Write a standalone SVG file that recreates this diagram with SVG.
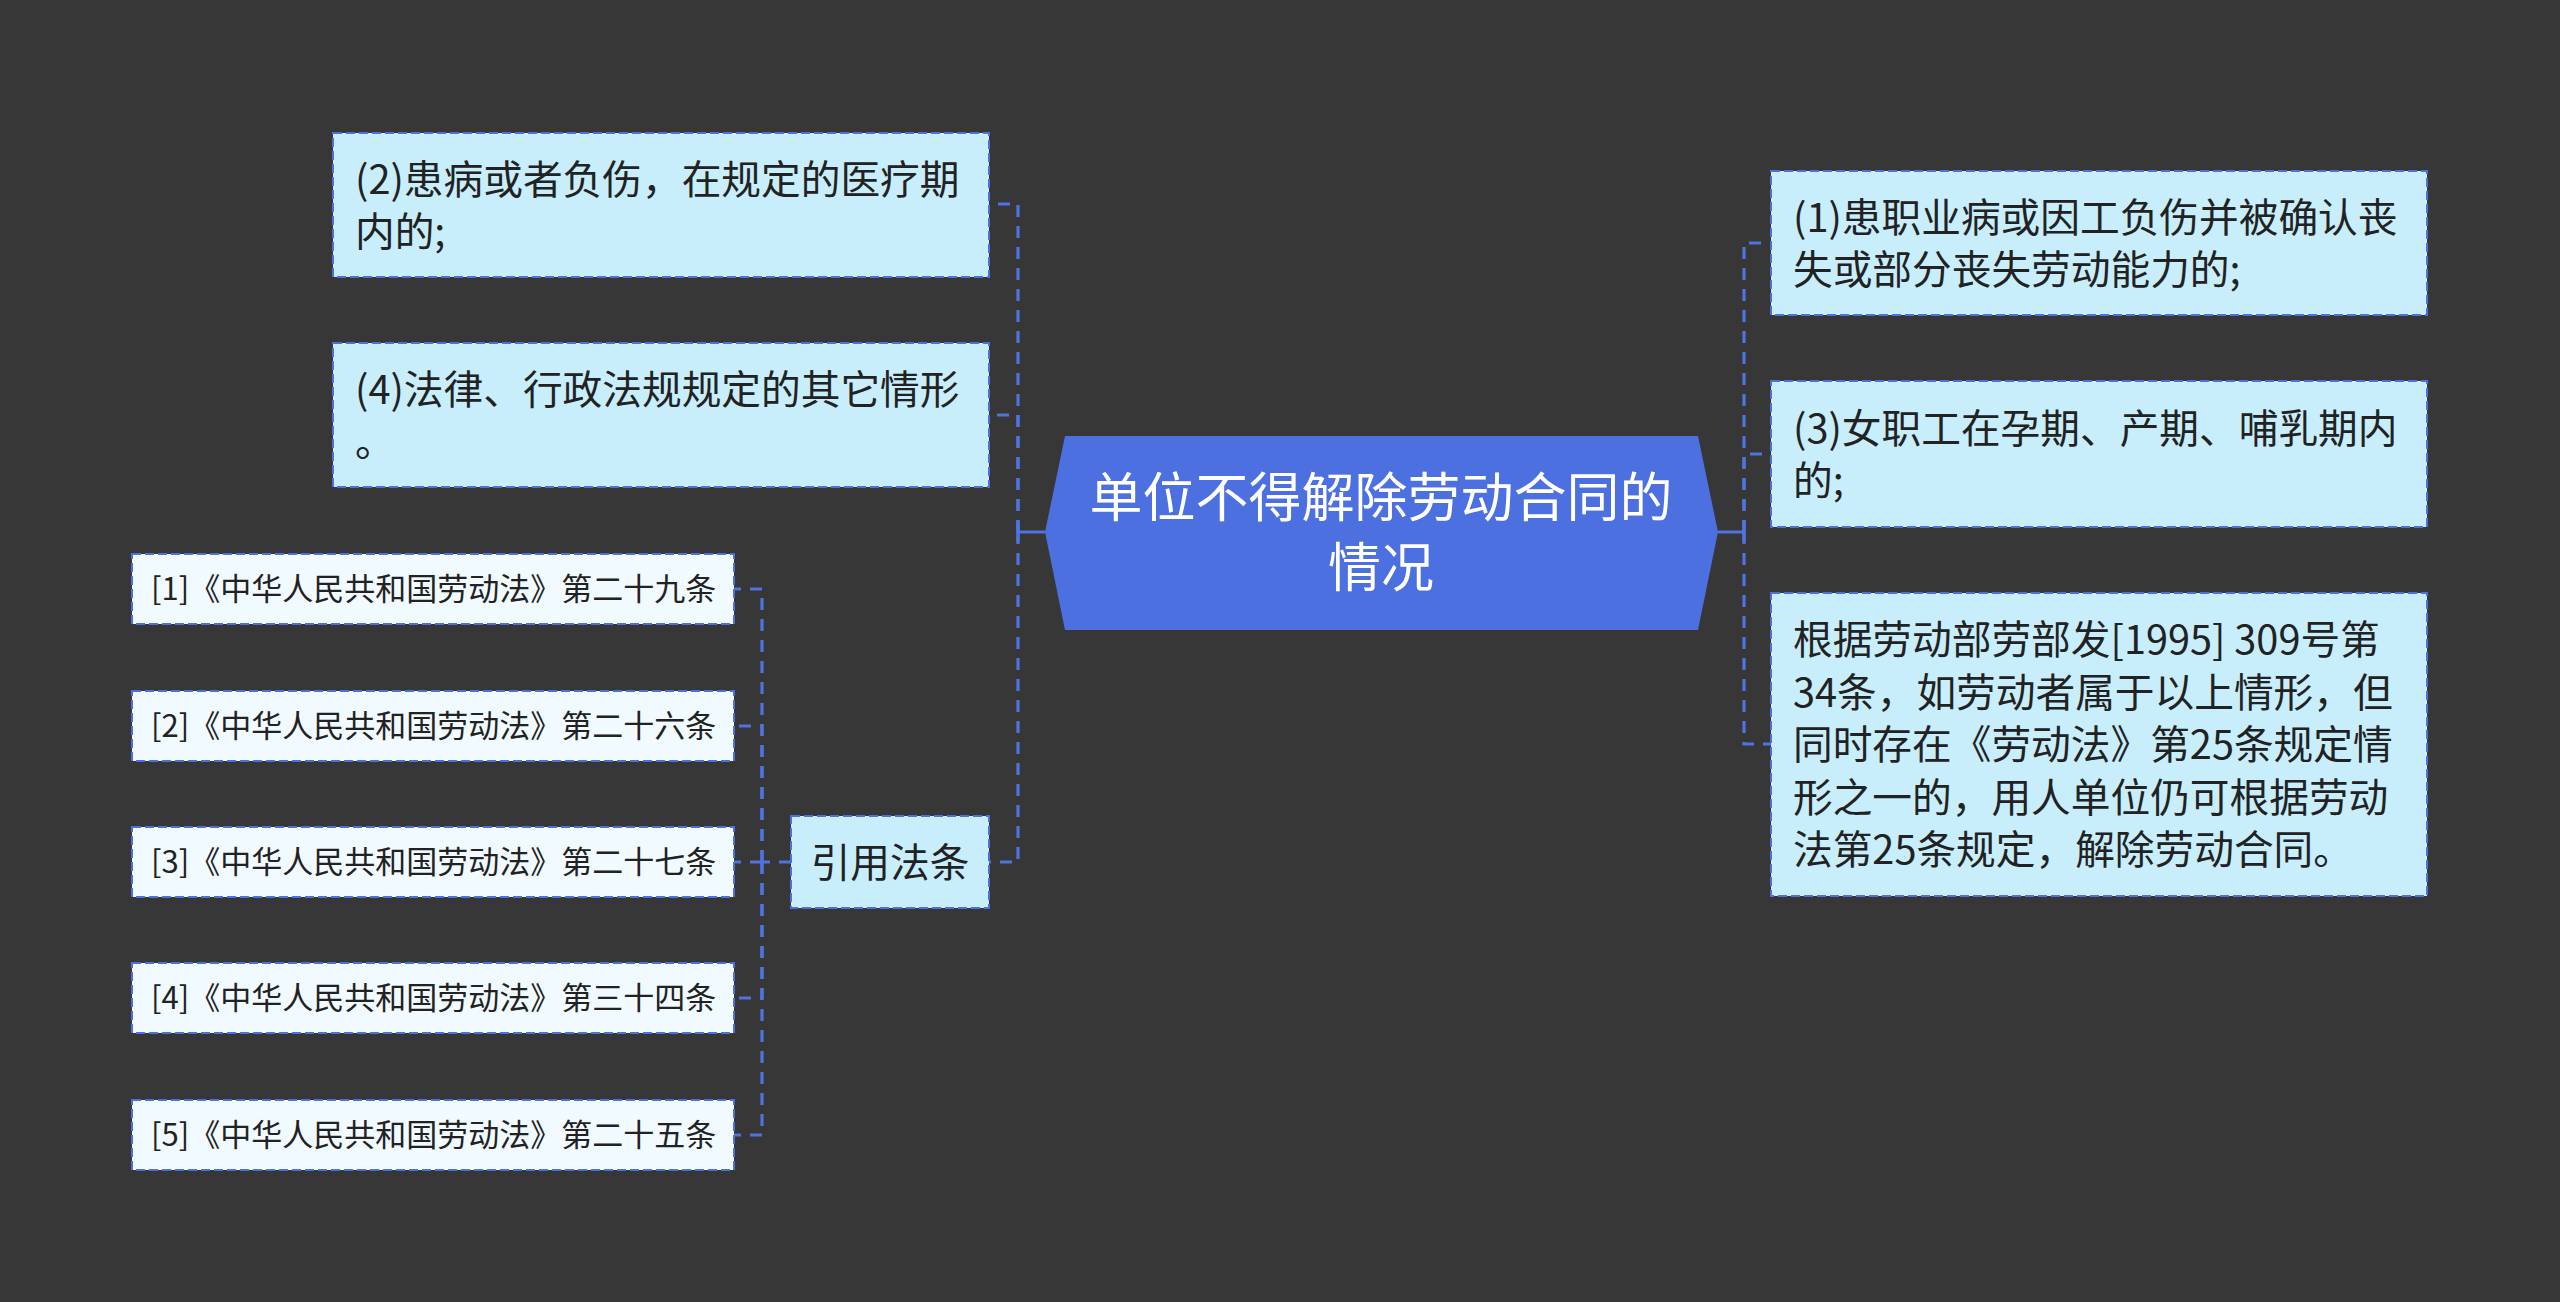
<svg xmlns="http://www.w3.org/2000/svg" width="2560" height="1302" viewBox="0 0 2560 1302">
<style>
.bg{fill:#373737}
.root{fill:#4C70E0}
.rt{fill:#ffffff;font-family:"Noto Sans CJK SC","Noto Sans",sans-serif;font-size:53px}
.big{fill:#C8EEFC;stroke:#4C70E0;stroke-width:2;stroke-dasharray:9 4}
.ref{fill:#F0FAFF;stroke:#4C70E0;stroke-width:2;stroke-dasharray:9 4}
.t{fill:#222222;font-family:"Noto Sans CJK SC","Noto Sans",sans-serif;font-size:39.7px}
.rf{fill:#222222;font-family:"Noto Sans CJK SC","Noto Sans",sans-serif;font-size:31px}
.c{fill:none;stroke:#5073E2;stroke-width:3.2;stroke-dasharray:12 9}
.s{fill:none;stroke:#5073E2;stroke-width:3.2}
</style>
<rect class="bg" x="0" y="0" width="2560" height="1302"/>
<g id="connectors">
  <path class="s" d="M1045 532 H1018 M1018 522 V542"/>
  <path class="s" d="M1718 532 H1744 M1744 522 V542"/>
  <path class="c" d="M1018 532 V204 H989"/>
  <path class="c" d="M1018 532 V415 H989"/>
  <path class="c" d="M1018 532 V862 H989"/>
  <path class="c" d="M1744 532 V243 H1771"/>
  <path class="c" d="M1744 532 V454 H1771"/>
  <path class="c" d="M1744 532 V744 H1771"/>
  <path class="c" d="M791 862 H762"/>
  <path class="c" d="M762 862 V589 H734"/>
  <path class="c" d="M762 862 V726 H734"/>
  <path class="c" d="M762 862 H734"/>
  <path class="c" d="M762 862 V998 H734"/>
  <path class="c" d="M762 862 V1135 H734"/>
</g>
<g id="root">
  <polygon class="root" points="1065,436 1698,436 1718,532 1698,630 1065,630 1045,532"/>
  <text class="rt" text-anchor="middle"><tspan x="1381" y="517">单位不得解除劳动合同的</tspan><tspan x="1381" y="587">情况</tspan></text>
</g>
<g id="n2">
  <rect class="big" x="333" y="133" width="656" height="144"/>
  <text class="t"><tspan x="355" y="194">(2)患病或者负伤，在规定的医疗期</tspan><tspan x="355" y="246">内的;</tspan></text>
</g>
<g id="n4">
  <rect class="big" x="333" y="343" width="656" height="144"/>
  <text class="t"><tspan x="355" y="404">(4)法律、行政法规规定的其它情形</tspan><tspan x="355" y="456">。</tspan></text>
</g>
<g id="cite">
  <rect class="big" x="791" y="816" width="198" height="92"/>
  <text class="t" x="890" y="877" text-anchor="middle">引用法条</text>
</g>
<g id="ref1">
  <rect class="ref" x="132" y="554" width="602" height="70"/>
  <text class="rf" x="151" y="600">[1]《中华人民共和国劳动法》第二十九条</text>
</g>
<g id="ref2">
  <rect class="ref" x="132" y="691" width="602" height="70"/>
  <text class="rf" x="151" y="737">[2]《中华人民共和国劳动法》第二十六条</text>
</g>
<g id="ref3">
  <rect class="ref" x="132" y="827" width="602" height="70"/>
  <text class="rf" x="151" y="873">[3]《中华人民共和国劳动法》第二十七条</text>
</g>
<g id="ref4">
  <rect class="ref" x="132" y="963" width="602" height="70"/>
  <text class="rf" x="151" y="1009">[4]《中华人民共和国劳动法》第三十四条</text>
</g>
<g id="ref5">
  <rect class="ref" x="132" y="1100" width="602" height="70"/>
  <text class="rf" x="151" y="1146">[5]《中华人民共和国劳动法》第二十五条</text>
</g>
<g id="n1">
  <rect class="big" x="1771" y="171" width="656" height="144"/>
  <text class="t"><tspan x="1793" y="232">(1)患职业病或因工负伤并被确认丧</tspan><tspan x="1793" y="284">失或部分丧失劳动能力的;</tspan></text>
</g>
<g id="n3">
  <rect class="big" x="1771" y="381" width="656" height="146"/>
  <text class="t"><tspan x="1793" y="443">(3)女职工在孕期、产期、哺乳期内</tspan><tspan x="1793" y="495">的;</tspan></text>
</g>
<g id="n5">
  <rect class="big" x="1771" y="593" width="656" height="303"/>
  <text class="t"><tspan x="1793" y="654">根据劳动部劳部发[1995] 309号第</tspan><tspan x="1793" y="707">34条，如劳动者属于以上情形，但</tspan><tspan x="1793" y="759">同时存在《劳动法》第25条规定情</tspan><tspan x="1793" y="812">形之一的，用人单位仍可根据劳动</tspan><tspan x="1793" y="864">法第25条规定，解除劳动合同。</tspan></text>
</g>
</svg>
